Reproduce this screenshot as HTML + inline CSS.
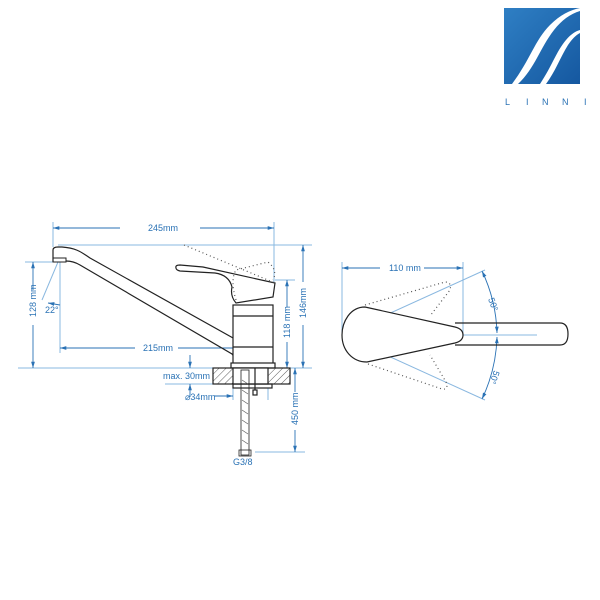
<!DOCTYPE html>
<html><head><style>
html,body{margin:0;padding:0;background:#fff;}
svg{display:block;}
text{font-family:"Liberation Sans",sans-serif;fill:#2a72b5;font-size:9px;}
</style></head><body>
<svg width="600" height="600" viewBox="0 0 600 600" xmlns="http://www.w3.org/2000/svg">
<defs>
<linearGradient id="lg" x1="0" y1="0" x2="1" y2="1"><stop offset="0" stop-color="#2f7fc4"/><stop offset="1" stop-color="#1558a0"/></linearGradient>
<marker id="a" viewBox="0 0 10 10" refX="10" refY="5" markerWidth="7" markerHeight="7" orient="auto-start-reverse"><path d="M0,2 L10,5 L0,8 Z" fill="#2a72b5"/></marker>
<pattern id="h" width="5" height="5" patternUnits="userSpaceOnUse" patternTransform="rotate(45)"><line x1="0" y1="0" x2="0" y2="5" stroke="#333" stroke-width="0.8"/></pattern>
</defs>
<!-- logo -->
<rect x="504" y="8" width="76" height="76" fill="url(#lg)"/>
<path d="M512,84 C530,60 535,40 550,25 C560,15 570,10 580,8 L580,11 C570,14 562,20 554,30 C540,48 535,68 518,84 Z" fill="#fff"/>
<path d="M540,84 C552,66 556,52 566,40 C571,34 576,31 580,30 L580,33 C576,35 572,39 568,45 C560,58 555,72 546,84 Z" fill="#fff"/>
<g font-size="8"><text x="505" y="105" style="fill:#2a72b5">L</text><text x="526" y="105">I</text><text x="542" y="105">N</text><text x="562" y="105">N</text><text x="584" y="105">I</text></g>

<g stroke="#8ab8e0" stroke-width="1" fill="none">
<!-- left drawing dimension lines -->
<line x1="53" y1="222" x2="53" y2="247"/>
<line x1="274" y1="222" x2="274" y2="282"/>
<line x1="58" y1="245" x2="312" y2="245"/>
<line x1="25" y1="262" x2="62" y2="262"/>
<line x1="18" y1="368" x2="312" y2="368"/>
<line x1="60" y1="262" x2="60" y2="353"/>
<line x1="58" y1="262" x2="42" y2="300"/>
<line x1="250" y1="340" x2="250" y2="368"/>
<line x1="275" y1="280" x2="295" y2="280"/>
<line x1="165" y1="384" x2="213" y2="384"/>
<line x1="233" y1="388" x2="233" y2="400"/>
<line x1="268" y1="388" x2="268" y2="400"/>
<line x1="255" y1="452" x2="305" y2="452"/>
<line x1="295" y1="368" x2="305" y2="368"/>
</g>
<g stroke="#2a72b5" stroke-width="0.9" fill="none">
<line x1="53" y1="228" x2="120" y2="228" marker-start="url(#a)"/>
<line x1="200" y1="228" x2="274" y2="228" marker-end="url(#a)"/>
<line x1="33" y1="262" x2="33" y2="290" marker-start="url(#a)"/>
<line x1="33" y1="325" x2="33" y2="368" marker-end="url(#a)"/>
<line x1="60" y1="348" x2="135" y2="348" marker-start="url(#a)"/>
<line x1="178" y1="348" x2="250" y2="348" marker-end="url(#a)"/>
<line x1="287" y1="280" x2="287" y2="307" marker-start="url(#a)"/>
<line x1="287" y1="342" x2="287" y2="368" marker-end="url(#a)"/>
<line x1="303" y1="245" x2="303" y2="282" marker-start="url(#a)"/>
<line x1="303" y1="325" x2="303" y2="368" marker-end="url(#a)"/>
<line x1="190" y1="355" x2="190" y2="368" marker-end="url(#a)"/>
<line x1="190" y1="397" x2="190" y2="384" marker-end="url(#a)"/>
<line x1="214" y1="396" x2="233" y2="396" marker-end="url(#a)"/>
<line x1="295" y1="368" x2="295" y2="392" marker-start="url(#a)"/>
<line x1="295" y1="430" x2="295" y2="452" marker-end="url(#a)"/>
<line x1="48" y1="303" x2="60" y2="305" marker-start="url(#a)"/>
</g>
<text x="148" y="231">245mm</text>
<text x="143" y="351">215mm</text>
<text transform="translate(36,317) rotate(-90)">128 mm</text>
<text transform="translate(290,338) rotate(-90)">118 mm</text>
<text transform="translate(306,318) rotate(-90)">146mm</text>
<text transform="translate(298,425) rotate(-90)">450 mm</text>
<text x="45" y="313">22°</text>
<text x="163" y="379">max. 30mm</text>
<text x="185" y="400">⌀34mm</text>
<text x="233" y="465">G3/8</text>

<!-- faucet -->
<g stroke="#222" stroke-width="1.2" fill="none">
<path d="M53,262 L53,250 Q53,247 58,247 L62,247 C75,248 80,251 90,258 L242,343 Q250,349 243,356 Q237,361 232,354 L80,265 C75,262 70,261 66,261"/>
<rect x="53" y="258" width="13" height="4" stroke-width="1"/>
<path d="M176,268 Q175,265 180,265 L203,267 L275,283 L273,297 L236,303 Q230,296 232,287 Q229,275 215,273 L180,271 Q176,270 176,268 Z"/>
<rect x="233" y="305" width="40" height="60" fill="#fff"/>
<line x1="233" y1="347" x2="273" y2="347"/>
<line x1="233" y1="316" x2="273" y2="316"/>
<rect x="231" y="363" width="44" height="5" fill="#fff"/>
<rect x="213" y="368" width="77" height="16" fill="url(#h)"/>
<rect x="233" y="368" width="35" height="16" fill="#fff"/>
<rect x="233" y="384" width="39" height="4"/>
<line x1="255" y1="368" x2="255" y2="390"/>
<rect x="253" y="390" width="4" height="5"/>
<rect x="241" y="370" width="8" height="85" stroke-width="0.8"/>
<rect x="239" y="450" width="12" height="6" stroke-width="0.8"/>
</g>
<path d="M242,380 L248,384 M242,390 L248,394 M242,400 L248,404 M242,410 L248,414 M242,420 L248,424 M242,430 L248,434 M242,440 L248,444" stroke="#555" stroke-width="0.6"/>
<g stroke="#555" stroke-width="1.2" stroke-dasharray="1,3" fill="none">
<path d="M184,245 L275,283"/>
<path d="M236,300 Q230,280 236,270 L268,262 Q278,270 273,280"/>
</g>

<!-- right drawing -->
<g stroke="#8ab8e0" stroke-width="1" fill="none">
<line x1="342" y1="262" x2="342" y2="335"/>
<line x1="463" y1="262" x2="463" y2="335"/>
<line x1="342" y1="335" x2="537" y2="335"/>
<line x1="342" y1="335" x2="485" y2="270"/>
<line x1="342" y1="335" x2="485" y2="400"/>
</g>
<g stroke="#2a72b5" stroke-width="0.9" fill="none">
<line x1="342" y1="268" x2="380" y2="268" marker-start="url(#a)"/>
<line x1="424" y1="268" x2="463" y2="268" marker-end="url(#a)"/>
<path d="M482,271 A154,154 0 0 1 497,333" marker-start="url(#a)" marker-end="url(#a)"/>
<path d="M497,337 A154,154 0 0 1 482,399" marker-start="url(#a)" marker-end="url(#a)"/>
</g>
<text x="389" y="271">110 mm</text>
<text transform="translate(488,299) rotate(70)">50°</text>
<text transform="translate(494,370) rotate(110)">50°</text>
<g stroke="#222" stroke-width="1.2" fill="none">
<path d="M455,323 L560,323 Q568,323 568,334 Q568,345 560,345 L455,345"/>
<path d="M365,307 C350,307 342,322 342,335 C342,350 352,362 367,362 L455,343 Q463,341 463,335 Q463,329 455,327 Z" fill="#fff"/>
</g>
<g stroke="#555" stroke-width="1.2" stroke-dasharray="1,3" fill="none">
<path d="M365,305 L445,282 Q452,282 450,290 L430,316"/>
<path d="M368,364 L442,389 Q449,390 446,382 L430,355"/>
</g>
</svg>
</body></html>
